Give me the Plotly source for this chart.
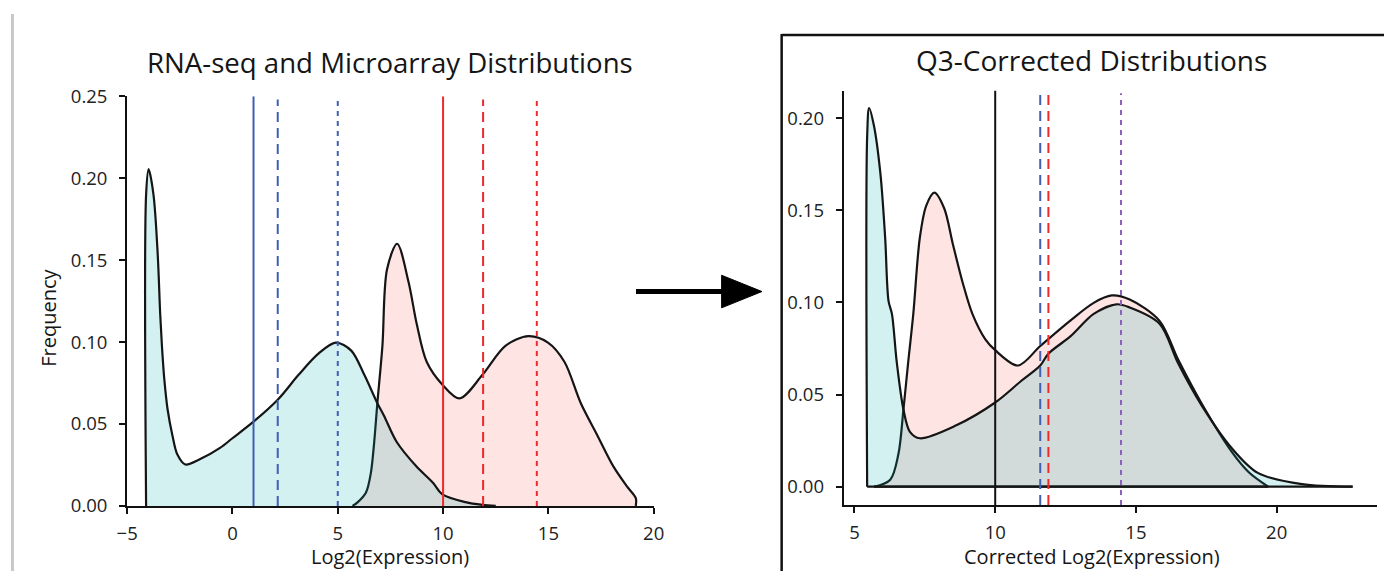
import plotly.graph_objects as go

W, H = 1395, 582

# ---------------- data ----------------
raw_rnaseq_x = [-4.1, -4.1, -3.98, -3.75, -3.55, -3.43, -3.35, -3.24, -3.08, -2.85, -2.62, -2.24,
                -1.53, -0.59, 0.0, 1.0, 2.15, 3.14, 4.08, 4.9, 5.64, 6.26, 6.88, 7.2, 7.8,
                8.74, 9.53, 9.95, 11.07, 11.87, 12.5]
raw_rnaseq_y = [0.0, 0.19, 0.2055, 0.19, 0.154, 0.117, 0.098, 0.078, 0.059, 0.043, 0.0315, 0.0253,
                0.0286, 0.0354, 0.0413, 0.0514, 0.0648, 0.080, 0.0929, 0.0997, 0.0948, 0.080, 0.0627, 0.0549, 0.039,
                0.024, 0.014, 0.0072, 0.0023, 0.0006, 0.0]

raw_array_x = [5.7, 5.95, 6.34, 6.57, 6.73, 6.88, 7.12, 7.34, 7.82, 8.36, 8.75, 9.22, 9.97,
               10.78, 11.87, 12.96, 14.05, 14.98, 15.76, 16.54, 17.32, 18.1, 18.72, 19.15, 19.15]
raw_array_y = [0.0, 0.0023, 0.0082, 0.020, 0.039, 0.0627, 0.0977, 0.1445, 0.160, 0.1367, 0.111, 0.088, 0.074,
               0.0656, 0.080, 0.0977, 0.1036, 0.0997, 0.088, 0.0627, 0.0432, 0.0238, 0.0121, 0.0047, 0.0]

q3_rnaseq_x = [5.45, 5.45, 5.52, 5.69, 5.92, 6.09, 6.21, 6.33, 6.5, 6.74, 6.97, 7.32, 8.6, 10.0,
               10.93, 11.6, 11.89, 12.68, 13.5, 14.31, 14.78, 15.84, 16.5, 17.34, 18.4, 19.33, 20.9, 22.7]
q3_rnaseq_y = [0.0, 0.19, 0.2055, 0.196, 0.170, 0.135, 0.1007, 0.0938, 0.0679, 0.0419, 0.0298, 0.0263, 0.0332, 0.0457,
               0.0575, 0.0658, 0.0722, 0.0817, 0.0938, 0.099, 0.0973, 0.0885, 0.067, 0.044, 0.021, 0.0075, 0.0014, 0.0]

q3_array_x = [5.7, 6.27, 6.56, 6.74, 6.91, 7.09, 7.32, 7.55, 7.84, 8.19, 8.49, 8.84, 9.19, 9.65, 10.0,
              10.81, 11.61, 12.68, 13.5, 14.14, 14.78, 15.84, 16.5, 17.34, 18.4, 19.0, 19.7]
q3_array_y = [0.0, 0.0038, 0.0177, 0.042, 0.0679, 0.0938, 0.135, 0.1526, 0.1596, 0.151, 0.132, 0.111, 0.0938, 0.080, 0.0741,
              0.0658, 0.0765, 0.0903, 0.0998, 0.1038, 0.1016, 0.090, 0.069, 0.045, 0.019, 0.008, 0.0]

# vertical reference lines: position, top value, colour, dash
raw_marker_x = [1.0, 2.15, 5.0, 10.0, 11.9, 14.45]
raw_marker_top = [0.25, 0.248, 0.25, 0.25, 0.248, 0.25]
raw_marker_color = ["#3f5fb5", "#3f5fb5", "#3f5fb5", "#f0282d", "#f0282d", "#f0282d"]
raw_marker_dash = ["solid", "10px,6px", "5px,5px", "solid", "10px,6px", "5px,5px"]

q3_marker_x = [10.0, 11.6, 11.89, 14.47]
q3_marker_top = [0.215, 0.2145, 0.2145, 0.2135]
q3_marker_color = ["#111111", "#3f5fb5", "#f0282d", "#8e5fbf"]
q3_marker_dash = ["solid", "10px,6px", "10px,6px", "5px,5px"]

raw_xticks = [-5, 0, 5, 10, 15, 20]
raw_yticks = [0.0, 0.05, 0.10, 0.15, 0.20, 0.25]
q3_xticks = [5, 10, 15, 20]
q3_yticks = [0.0, 0.05, 0.10, 0.15, 0.20]

# ---------------- helpers (page pixel -> paper fraction) ----------------
def px(x):
    return x / W

def py(y):
    return 1 - y / H

FONT = "Open Sans"
PINK = "rgba(248,118,109,0.20)"
CYAN = "rgba(0,170,180,0.17)"
OUTLINE = "#151515"

fig = go.Figure()

def density(xs, ys, fill, xa, ya, baseline=True):
    fig.add_trace(go.Scatter(
        x=xs, y=ys, mode="lines", fill="tozeroy", fillcolor=fill,
        line=dict(color=OUTLINE, width=2.2, shape="spline", smoothing=0.9),
        xaxis=xa, yaxis=ya, hoverinfo="skip", showlegend=False))
    if baseline:
        fig.add_trace(go.Scatter(
            x=[xs[0], xs[-1]], y=[0, 0], mode="lines",
            line=dict(color=OUTLINE, width=2.2),
            xaxis=xa, yaxis=ya, hoverinfo="skip", showlegend=False))

def markers(xs, tops, colors, dashes, bottom, xa, ya, width):
    for x, t, c, d in zip(xs, tops, colors, dashes):
        fig.add_trace(go.Scatter(
            x=[x, x], y=[bottom, t], mode="lines",
            line=dict(color=c, width=width, dash=d),
            xaxis=xa, yaxis=ya, hoverinfo="skip", showlegend=False))

# left panel
density(raw_array_x, raw_array_y, PINK, "x", "y", baseline=False)
density(raw_rnaseq_x, raw_rnaseq_y, CYAN, "x", "y", baseline=False)
markers(raw_marker_x, raw_marker_top, raw_marker_color, raw_marker_dash, 0.0, "x", "y", 2)

# right panel
density(q3_array_x, q3_array_y, PINK, "x2", "y2")
density(q3_rnaseq_x, q3_rnaseq_y, CYAN, "x2", "y2")
markers(q3_marker_x, q3_marker_top, q3_marker_color, q3_marker_dash, -0.0099, "x2", "y2", 2)

def axis_style(standoff):
    return dict(showline=True, linecolor="#111", linewidth=2, ticks="outside",
                ticklen=6, tickwidth=2, tickcolor="#111", showgrid=False, zeroline=False,
                tickfont=dict(family=FONT, size=18.5, color="#222"), ticklabelstandoff=standoff,
                fixedrange=True, layer="above traces")

fig.update_layout(
    width=W, height=H, margin=dict(l=0, r=0, t=0, b=0, pad=0),
    paper_bgcolor="white", plot_bgcolor="rgba(0,0,0,0)",
    xaxis=dict(domain=[px(118), px(653)], range=[-5, 20], tickvals=raw_xticks,
               anchor="y", **axis_style(4)),
    yaxis=dict(domain=[py(514), py(86)], range=[0, 0.25], tickvals=raw_yticks,
               tickformat=".2f", anchor="x", **axis_style(8)),
    xaxis2=dict(domain=[px(846), px(1388)], range=[4.615, 23.57], tickvals=q3_xticks,
                anchor="y2", **axis_style(4)),
    yaxis2=dict(domain=[py(513), py(80)], range=[-0.0099, 0.215], tickvals=q3_yticks,
                tickformat=".2f", anchor="x2", **axis_style(8)),
)

def label(text, x, y, size, angle=0):
    fig.add_annotation(text=text, x=px(x), y=py(y), xref="paper", yref="paper",
                       xanchor="center", yanchor="middle", showarrow=False, textangle=angle,
                       font=dict(family=FONT, size=size, color="#151515"))

label("RNA-seq and Microarray Distributions", 385, 50, 27.6)
label("Q3-Corrected Distributions", 1098, 48, 28)
label("Log2(Expression)", 385, 567, 20)
label("Corrected Log2(Expression)", 1098, 567, 20)
label("Frequency", 38, 317, 20, -90)

shapes = [
    # grey strip at the far left
    dict(type="rect", xref="paper", yref="paper", x0=px(0), x1=px(3), y0=0, y1=1,
         fillcolor="#c8c8cc", line=dict(width=0)),
    # frame around right panel
    dict(type="line", xref="paper", yref="paper", x0=px(783), x1=px(783), y0=py(21), y1=0,
         line=dict(color="#111", width=2.5)),
    dict(type="line", xref="paper", yref="paper", x0=px(783), x1=1, y0=py(22), y1=py(22),
         line=dict(color="#111", width=2.5)),
    # arrow
    dict(type="line", xref="paper", yref="paper", x0=px(635), x1=px(728), y0=py(290), y1=py(290),
         line=dict(color="black", width=5)),
    dict(type="path", xref="paper", yref="paper",
         path=f"M {px(722)} {py(273)} L {px(763)} {py(290)} L {px(722)} {py(307)} Z",
         fillcolor="black", line=dict(color="black", width=1)),
]
fig.update_layout(shapes=shapes)

# keep the figure flush with the window: drop the default body margin and
# redraw once the page has settled (harmless no-op relayouts).
settle = (
    "var gd=document.getElementById('{plot_id}');"
    "document.documentElement.style.margin='0';document.body.style.margin='0';"
    "document.documentElement.style.overflow='hidden';document.body.style.overflow='hidden';"
    "setTimeout(function(){Plotly.relayout(gd,{'paper_bgcolor':'white'});},300);"
    "window.addEventListener('load',function(){Plotly.relayout(gd,{'paper_bgcolor':'white'});});"
)
fig.write_html("out.html", post_script=settle)
